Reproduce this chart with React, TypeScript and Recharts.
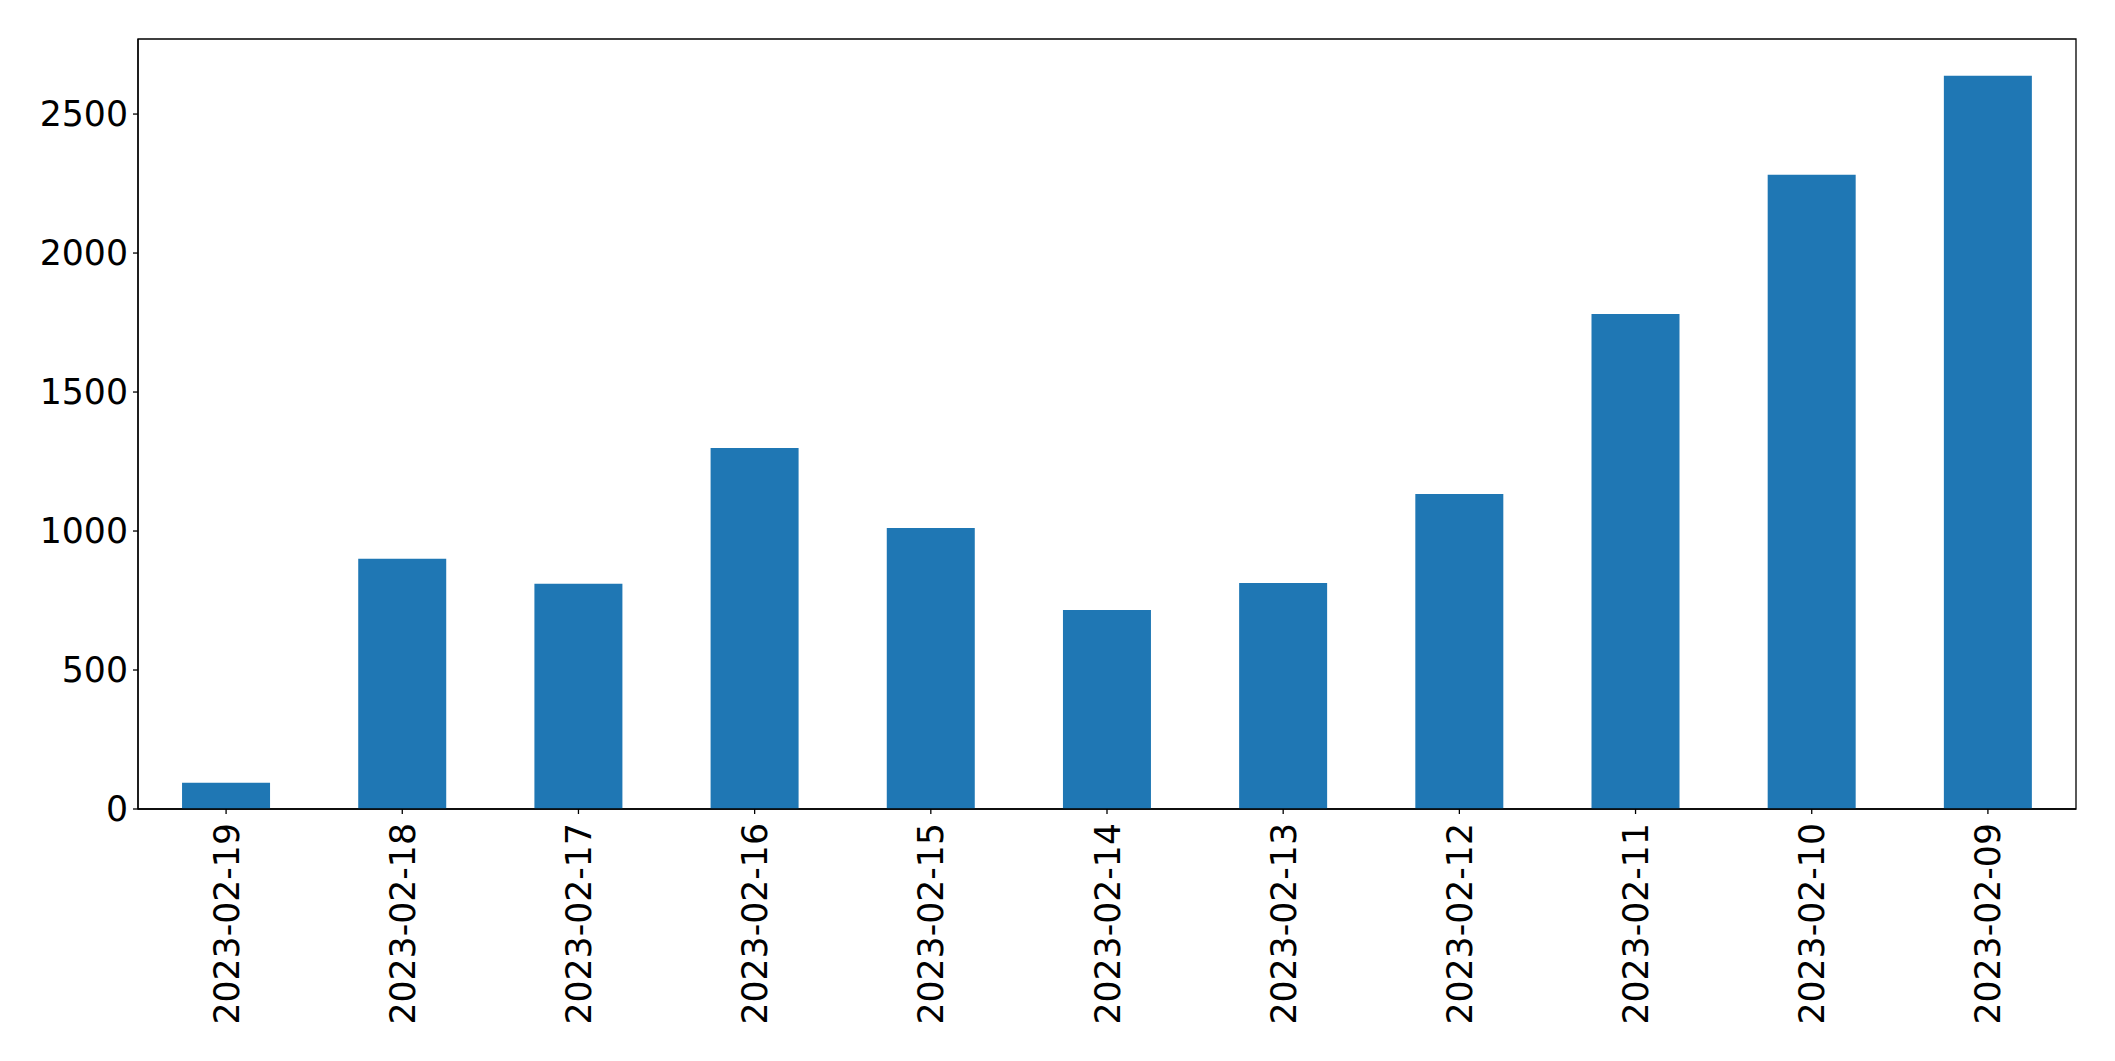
import React from 'react';
import { BarChart, Bar, XAxis, YAxis, ReferenceArea } from 'recharts';

const dates = ['2023-02-19', '2023-02-18', '2023-02-17', '2023-02-16', '2023-02-15', '2023-02-14', '2023-02-13', '2023-02-12', '2023-02-11', '2023-02-10', '2023-02-09'];
const counts = [94, 900, 810, 1299, 1011, 716, 813, 1133, 1781, 2282, 2638];
const yTicks = [0, 500, 1000, 1500, 2000, 2500];
const yMax = 2770;

const data = dates.map((d, i) => ({ date: d, value: counts[i] }));

const FONT = 'DejaVu Sans';
const FS = 34.7;

const XTick = (props: any) => {
  const { x, y, payload } = props;
  return (
    <g transform={`translate(${x},${y + 9})`}>
      <text transform="rotate(-90)" textAnchor="end" dy="0.36em" fontFamily={FONT} fontSize={FS} fill="#000">
        {payload.value}
      </text>
    </g>
  );
};

export default function App() {
  return (
    <div style={{ position: 'absolute', left: 0, top: 0, width: 2115, height: 1061, background: '#fff' }}>
      <BarChart width={2115} height={1061} data={data} margin={{ top: 39, right: 39, bottom: 0, left: 0 }} barCategoryGap="25%">
        <XAxis dataKey="date" height={252} tickSize={5} tickMargin={0} tick={<XTick />} axisLine={{ stroke: '#000', strokeWidth: 1.3 }} tickLine={{ stroke: '#000', strokeWidth: 1.3 }} interval={0} />
        <YAxis width={138} domain={[0, yMax]} ticks={yTicks} tickSize={5} tickMargin={5} allowDataOverflow axisLine={{ stroke: '#000', strokeWidth: 1.3 }} tickLine={{ stroke: '#000', strokeWidth: 1.3 }} tick={{ fontFamily: FONT, fontSize: FS, fill: '#000' }} />
        <Bar dataKey="value" fill="#1f77b4" isAnimationActive={false} />
        <ReferenceArea x1={dates[0]} x2={dates[dates.length - 1]} y1={0} y2={yMax} fill="none" fillOpacity={0} stroke="#000" strokeWidth={1.3} ifOverflow="visible" />
      </BarChart>
    </div>
  );
}
